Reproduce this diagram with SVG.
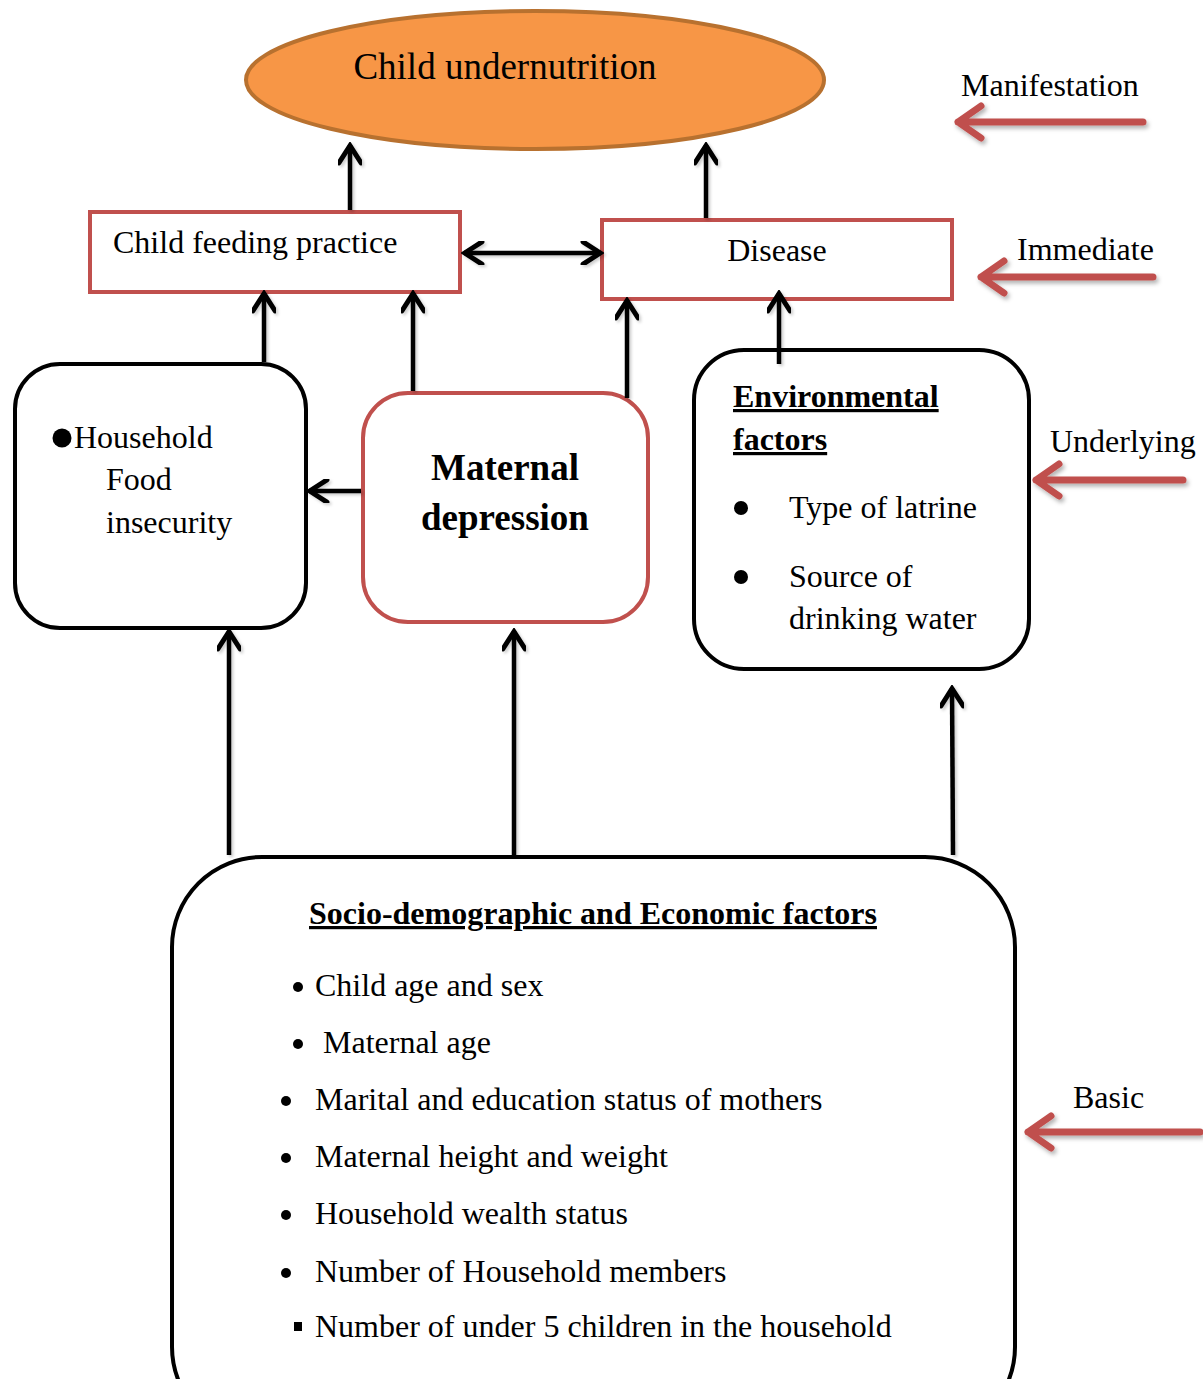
<svg xmlns="http://www.w3.org/2000/svg" width="1203" height="1379" viewBox="0 0 1203 1379">
<style>
text{font-family:"Liberation Serif","Times New Roman",serif;fill:#000}
.t{font-size:32px}
.b{font-weight:bold}
.u{text-decoration:underline}
.box{fill:#fff;stroke:#000;stroke-width:4}
.rbox{fill:#fff;stroke:#C0504D;stroke-width:4}
.con{stroke:#000;stroke-width:4.5;fill:none}
.lvl{stroke:#C0504D;stroke-width:7;fill:none;stroke-linecap:round;stroke-linejoin:round}
</style>
<defs>
<marker id="ah" viewBox="0 0 20 20" refX="17.5" refY="10" markerWidth="5.5" markerHeight="5.5" markerUnits="strokeWidth" orient="auto-start-reverse">
<path d="M3,1 L17,10 L3,19" fill="none" stroke="#000" stroke-width="4" stroke-linecap="round" stroke-linejoin="miter"/>
</marker>
<filter id="sh" x="-10%" y="-50%" width="120%" height="200%">
<feDropShadow dx="2" dy="3" stdDeviation="2" flood-color="#000" flood-opacity="0.3"/>
</filter>
<filter id="sh2" x="-50%" y="-10%" width="200%" height="120%">
<feDropShadow dx="2" dy="2" stdDeviation="1.5" flood-color="#000" flood-opacity="0.2"/>
</filter>
</defs>

<g id="undernutrition">
<ellipse cx="535" cy="80" rx="289" ry="69" fill="#F79646" stroke="#B8712F" stroke-width="4"/>
<text x="505" y="79" font-size="37" text-anchor="middle">Child undernutrition</text>
</g>

<g id="feeding">
<rect class="rbox" x="90" y="212" width="370" height="80"/>
<text class="t" x="113" y="253">Child feeding practice</text>
</g>

<g id="disease">
<rect class="rbox" x="602" y="220" width="350" height="79"/>
<text class="t" x="777" y="261" text-anchor="middle">Disease</text>
</g>

<g id="household">
<rect class="box" x="15" y="364" width="291" height="264" rx="45"/>
<circle cx="62" cy="438" r="9.5"/>
<text class="t" x="74" y="448">Household</text>
<text class="t" x="106" y="490">Food</text>
<text class="t" x="106" y="533">insecurity</text>
</g>

<g id="maternal">
<rect class="rbox" x="363" y="393" width="285" height="229" rx="45"/>
<text class="b" x="505" y="480" font-size="37" text-anchor="middle">Maternal</text>
<text class="b" x="505" y="530" font-size="37" text-anchor="middle">depression</text>
</g>

<g id="environmental">
<rect class="box" x="694" y="350" width="335" height="319" rx="50"/>
<text class="t b u" x="733" y="407">Environmental</text>
<text class="t b u" x="733" y="450">factors</text>
<circle cx="741" cy="508" r="7"/>
<text class="t" x="789" y="518">Type of latrine</text>
<circle cx="741" cy="577" r="7"/>
<text class="t" x="789" y="587">Source of</text>
<text class="t" x="789" y="629">drinking water</text>
</g>

<g id="socio">
<rect class="box" x="172" y="857" width="843" height="580" rx="90"/>
<text class="t b u" x="593" y="924" text-anchor="middle">Socio-demographic and Economic factors</text>
<circle cx="298" cy="987" r="5"/>
<text class="t" x="315" y="996">Child age and sex</text>
<circle cx="298" cy="1044" r="5"/>
<text class="t" x="323" y="1053">Maternal age</text>
<circle cx="286" cy="1101" r="5"/>
<text class="t" x="315" y="1110">Marital and education status of mothers</text>
<circle cx="286" cy="1158" r="5"/>
<text class="t" x="315" y="1167">Maternal height and weight</text>
<circle cx="286" cy="1215" r="5"/>
<text class="t" x="315" y="1224">Household wealth status</text>
<circle cx="286" cy="1273" r="5"/>
<text class="t" x="315" y="1282">Number of Household members</text>
<rect x="294" y="1322" width="8" height="9"/>
<text class="t" x="315" y="1337">Number of under 5 children in the household</text>
</g>

<g id="connectors" filter="url(#sh2)">
<line class="con" x1="350" y1="210" x2="350" y2="145" marker-end="url(#ah)"/>
<line class="con" x1="706" y1="218" x2="706" y2="145" marker-end="url(#ah)"/>
<line class="con" x1="464" y1="253" x2="601" y2="253" marker-start="url(#ah)" marker-end="url(#ah)"/>
<line class="con" x1="264" y1="362" x2="264" y2="293" marker-end="url(#ah)"/>
<line class="con" x1="413" y1="391" x2="413" y2="293" marker-end="url(#ah)"/>
<line class="con" x1="627" y1="398" x2="627" y2="300" marker-end="url(#ah)"/>
<line class="con" x1="779" y1="364" x2="779" y2="293" marker-end="url(#ah)"/>
<line class="con" x1="361" y1="491" x2="309" y2="491" marker-end="url(#ah)"/>
<line class="con" x1="229" y1="855" x2="229" y2="631" marker-end="url(#ah)"/>
<line class="con" x1="514" y1="855" x2="514" y2="631" marker-end="url(#ah)"/>
<line class="con" x1="953" y1="855" x2="952" y2="688" marker-end="url(#ah)"/>
</g>

<g id="levels">
<text class="t" x="961" y="96">Manifestation</text>
<path class="lvl" filter="url(#sh)" d="M1143,122 L958,122 M981,106 L958,122 L981,138"/>
<text class="t" x="1017" y="260">Immediate</text>
<path class="lvl" filter="url(#sh)" d="M1153,277 L981,277 M1004,261 L981,277 L1004,293"/>
<text class="t" x="1050" y="452">Underlying</text>
<path class="lvl" filter="url(#sh)" d="M1183,480 L1036,480 M1059,464 L1036,480 L1059,496"/>
<text class="t" x="1073" y="1108">Basic</text>
<path class="lvl" filter="url(#sh)" d="M1200,1132 L1028,1132 M1051,1116 L1028,1132 L1051,1148"/>
</g>
</svg>
